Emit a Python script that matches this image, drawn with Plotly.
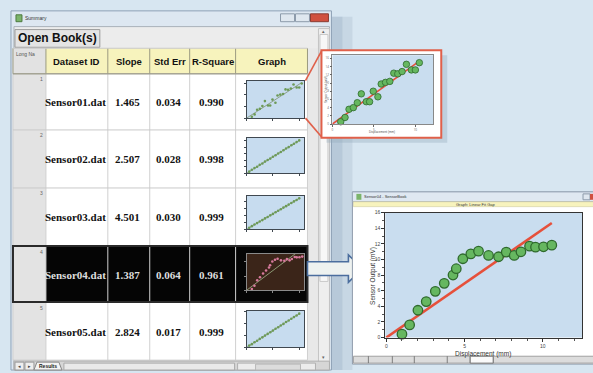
import plotly.graph_objects as go

W, H = 593, 373

# ---------------- data ----------------
headers = ["Dataset ID", "Slope", "Std Err", "R-Square", "Graph"]
dataset_ids = ["Sensor01.dat", "Sensor02.dat", "Sensor03.dat", "Sensor04.dat", "Sensor05.dat"]
slopes = [1.465, 2.507, 4.501, 1.387, 2.824]
std_errs = [0.034, 0.028, 0.030, 0.064, 0.017]
r_squares = [0.990, 0.998, 0.999, 0.961, 0.999]

s1_x = [1.0, 1.52, 2.0, 2.52, 3.0, 3.48, 4.08, 4.48, 4.92, 5.48, 5.88, 6.4, 6.92, 7.4, 7.88, 8.4, 8.92, 9.52, 10.0, 10.48]
s1_y = [0.56, 1.6, 3.6, 4.0, 5.2, 7.36, 5.44, 5.44, 8.0, 6.64, 9.76, 10.16, 10.4, 12.4, 12.24, 12.8, 14.56, 13.2, 13.2, 14.96]

s2_x = [0.5, 1.0, 1.5, 2.0, 2.5, 3.0, 3.5, 4.0, 4.5, 5.0, 5.5, 6.0, 6.5, 7.0, 7.5, 8.0, 8.5, 9.0, 9.5, 10.0]
s2_y = [1.2, 2.6, 3.9, 5.0, 6.4, 7.4, 8.9, 10.1, 11.2, 12.6, 13.7, 15.1, 16.2, 17.6, 18.9, 20.0, 21.4, 22.5, 23.8, 25.1]

s3_x = [0.5, 1.0, 1.5, 2.0, 2.5, 3.0, 3.5, 4.0, 4.5, 5.0, 5.5, 6.0, 6.5, 7.0, 7.5, 8.0, 8.5, 9.0, 9.5, 10.0]
s3_y = [2.1, 4.6, 6.9, 9.0, 11.3, 13.4, 15.9, 18.0, 20.3, 22.4, 24.8, 27.0, 29.2, 31.6, 33.7, 36.0, 38.2, 40.6, 42.7, 45.1]

s4_x = [1.0, 1.49, 2.02, 2.55, 3.13, 3.70, 4.26, 4.47, 4.89, 5.40, 5.89, 6.53, 7.17, 7.66, 8.17, 8.60, 9.15, 9.53, 10.04, 10.57]
s4_y = [0.43, 1.62, 3.49, 4.60, 5.91, 6.94, 8.0, 8.81, 10.09, 10.72, 11.06, 10.51, 10.34, 10.94, 10.51, 10.98, 11.70, 11.57, 11.62, 11.83]

s5_x = [0.5, 1.0, 1.5, 2.0, 2.5, 3.0, 3.5, 4.0, 4.5, 5.0, 5.5, 6.0, 6.5, 7.0, 7.5, 8.0, 8.5, 9.0, 9.5, 10.0]
s5_y = [1.5, 2.7, 4.3, 5.6, 7.1, 8.4, 9.9, 11.3, 12.7, 14.1, 15.6, 16.9, 18.4, 19.7, 21.3, 22.6, 24.0, 25.4, 26.8, 28.3]

series_x = [s1_x, s2_x, s3_x, s4_x, s5_x]
series_y = [s1_y, s2_y, s3_y, s4_y, s5_y]

big_x_ticks = [0, 5, 10]
big_y_ticks = [0, 2, 4, 6, 8, 10, 12, 14, 16]
big_x_title = "Displacement (mm)"
big_y_title = "Sensor Output (mV)"

# ---------------- helpers (pixel -> paper) ----------------
def fx(p):
    return p / W

def fy(p):
    return 1 - p / H

shapes = []
annotations = []

def rect(x0, y0, x1, y1, fill=None, line=None, lw=1, opacity=1, layer="below"):
    shapes.append(dict(type="rect", xref="paper", yref="paper",
                       x0=fx(x0), x1=fx(x1), y0=fy(y1), y1=fy(y0),
                       fillcolor=fill if fill else "rgba(0,0,0,0)",
                       line=dict(color=line if line else "rgba(0,0,0,0)", width=lw if line else 0),
                       opacity=opacity, layer=layer))

def seg(x0, y0, x1, y1, color, lw=1, layer="below"):
    shapes.append(dict(type="line", xref="paper", yref="paper",
                       x0=fx(x0), y0=fy(y0), x1=fx(x1), y1=fy(y1),
                       line=dict(color=color, width=lw), layer=layer))

def poly(points, fill, line, lw=1, layer="below"):
    d = "M " + " L ".join(f"{fx(x)},{fy(y)}" for x, y in points) + " Z"
    shapes.append(dict(type="path", xref="paper", yref="paper", path=d,
                       fillcolor=fill, line=dict(color=line, width=lw), layer=layer))

def text(x, y, s, size, color="#000", family="Liberation Sans", xa="center", ya="middle", angle=0):
    annotations.append(dict(xref="paper", yref="paper", x=fx(x), y=fy(y), text=s,
                            showarrow=False, xanchor=xa, yanchor=ya, textangle=angle,
                            borderpad=0, font=dict(size=size, color=color, family=family)))

# ---------------- Summary window ----------------
rect(330, 14, 352, 373, "#b9cbd9", opacity=0.55)
rect(330, 14, 342, 373, "#a7bccd", opacity=0.5)
rect(10, 8, 331, 373, "#dde7f1", "#8fa2b6")
rect(15, 12, 21, 19, "#7bb46a", "#4d7a3f")
text(23, 15.5, "Summary", 5, "#333", xa="left")
rect(280, 11, 294, 19, "#dfe7ef", "#8d9bab")
rect(295, 11, 309, 19, "#dfe7ef", "#8d9bab")
rect(310, 11, 328, 19, "#d0503f", "#8a3a30")
rect(13, 24, 329, 373, "#ececec", "#a9b1ba")
rect(14, 27, 99, 45, "#e4e4e4", "#9c9c9c")
text(56.5, 36, "<b>Open Book(s)</b>", 12, "#111")

col_edges = [12, 45, 107, 149, 189, 235, 307]
row_edges = [46, 72, 129, 188, 247, 304, 363]

rect(12, 46, 45, 72, "#e2e2e2")
rect(45, 46, 307, 72, "#f7f3bd")
rect(12, 72, 45, 363, "#e3e3e3")
rect(45, 72, 307, 363, "#ffffff")
rect(45, 247, 307, 304, "#050505")
rect(307, 46, 318, 365, "#e8e8e8")
rect(318, 26, 329, 365, "#eeeeee", "#c3c3c3")
rect(319.5, 32, 327.5, 283, "#f7f7f7", "#c9c9c9")
text(323.5, 28.5, "▴", 5, "#666")
text(323.5, 360, "▾", 5, "#666")

for i, x in enumerate(col_edges):
    seg(x, 46, x, 72, "#9b9a80", 1)
    seg(x, 72, x, 363, "#d0d0d0", 1)
for y in row_edges:
    seg(12, y, 307, y, "#c9c9c9", 1)
seg(12, 72, 307, 72, "#8f8e78", 1)
rect(12, 247, 307, 304, None, "#2a2a2a", 2)

col_centers = [(col_edges[i] + col_edges[i + 1]) / 2 for i in range(1, 6)]
for c, h in zip(col_centers, headers):
    text(c, 59.5, f"<b>{h}</b>", 9.5, "#111")
text(14, 47.5, "Long Na", 5, "#555", xa="left", ya="top")

for r in range(5):
    top, bot = row_edges[r + 1], row_edges[r + 2]
    cy = (top + bot) / 2 + 0.5
    col = "#dedede" if r == 3 else "#111"
    vals = [dataset_ids[r], f"{slopes[r]:.3f}", f"{std_errs[r]:.3f}", f"{r_squares[r]:.3f}"]
    for c, v in zip(col_centers[:4], vals):
        text(c - 1, cy, f"<b>{v}</b>", 11, col, family="Liberation Serif")
    text(43, top + 1.5, str(r + 1), 5, "#666", xa="right", ya="top")

# bottom tab bar
rect(13, 364, 329, 373, "#d6d6d6", "#b0b0b0")
rect(14, 365, 23, 373, "#eeeeee", "#999")
rect(24, 365, 33, 373, "#eeeeee", "#999")
text(18.5, 368.5, "◂", 5, "#444")
text(28.5, 368.5, "▸", 5, "#444")
poly([(33, 373), (36, 365), (58, 365), (61, 373)], "#f4f4f4", "#888")
text(47, 368.8, "<b>Results</b>", 5, "#222")
rect(63, 366, 234, 373, "#e9e9e9", "#a8a8a8")
rect(237, 366, 315, 373, "#ececec", "#b0b0b0")
rect(255, 367, 300, 373, "#dcdcdc", "#b8b8b8")

# ---------------- callout ----------------
rect(326, 53, 447, 142, "#8fa6b8", opacity=0.35)
rect(321, 48, 441, 137, "#ffffff", "#e0604a", 2)
seg(305, 79, 321, 49, "#e0604a", 1.6)
seg(305, 117, 321, 136, "#e0604a", 1.6)

# ---------------- arrow ----------------
poly([(307, 263), (348, 263), (348, 256), (362, 270), (348, 284), (348, 277), (307, 277)],
     "#eef2f0", "#4b6e9e", 1.6)

# ---------------- Graph window ----------------
rect(352, 192, 600, 367, "#ffffff", "#8f9cab")
rect(352, 192, 600, 202, "#dfe8f1", "#9aa8b8")
rect(356, 194, 361, 200, "#7bb46a")
text(363, 197, "Sensor04 - SensorBook", 4, "#333", xa="left")
rect(583, 194, 590, 200, "#dfe7ef", "#8d9bab")
rect(590, 194, 600, 200, "#d0503f")
rect(353, 202, 599, 207, "#f7f3bd", "#c8c49a", 0.5)
text(475, 204.5, "Graph: Linear Fit Gap", 4, "#333")
rect(353, 359, 599, 366, "#dcdcdc", "#a0a0a0")
for xs in [368, 392, 414, 447, 470, 493]:
    seg(xs, 359, xs, 366, "#666", 0.8)
rect(470, 359, 493, 366, "#fafafa", "#777")

BIG = (385, 213, 582, 340)
CAL = (332, 53, 433, 123)
thumb_rows = [(79, 117), (137, 173), (196, 230), (255, 292), (313, 350)]
THX = (246, 304)

rect(*BIG, "#c9ddef")
rect(*CAL, "#c9ddef")
for i, (t0, t1) in enumerate(thumb_rows):
    rect(THX[0], t0, THX[1], t1, "#3b2519" if i == 3 else "#c7dcef")

# axis titles
text(483, 357, big_x_title, 6.5, "#333")
text(372, 277, big_y_title, 6.5, "#333", angle=-90)
text(382, 131, big_x_title, 3, "#555")
text(325, 88, big_y_title, 3, "#555", angle=-90)

# ---------------- figure & traces ----------------
fig = go.Figure()

green_fill = "#66b760"
green_line = "#2f6a2d"
red = "#e6503b"

fig.add_trace(go.Scatter(x=[0, max(s4_x)], y=[0, slopes[3] * max(s4_x)], mode="lines",
                         line=dict(color=red, width=2.6), xaxis="x", yaxis="y",
                         cliponaxis=False, hoverinfo="skip"))
fig.add_trace(go.Scatter(x=s4_x, y=s4_y, mode="markers", xaxis="x", yaxis="y", cliponaxis=False,
                         marker=dict(size=9.5, color=green_fill, line=dict(color=green_line, width=1.3))))

fig.add_trace(go.Scatter(x=[0, max(s1_x)], y=[0, slopes[0] * max(s1_x)], mode="lines",
                         line=dict(color=red, width=1.6), xaxis="x2", yaxis="y2", cliponaxis=False))
fig.add_trace(go.Scatter(x=s1_x, y=s1_y, mode="markers", xaxis="x2", yaxis="y2", cliponaxis=False,
                         marker=dict(size=6.5, color=green_fill, line=dict(color=green_line, width=0.8))))

for i in range(5):
    ax = str(i + 3)
    xs, ys = series_x[i], series_y[i]
    dark = i == 3
    fig.add_trace(go.Scatter(x=[0, max(xs)], y=[0, slopes[i] * max(xs)], mode="lines",
                             line=dict(color="#9fb58a" if dark else "#7e9070", width=0.8),
                             xaxis="x" + ax, yaxis="y" + ax, cliponaxis=False))
    fig.add_trace(go.Scatter(x=xs, y=ys, mode="markers", xaxis="x" + ax, yaxis="y" + ax,
                             cliponaxis=False,
                             marker=dict(size=2.6, color="#d77a9c" if dark else "#6d9a57",
                                         line=dict(width=0))))

axis_common = dict(showgrid=False, zeroline=False, showline=True, mirror=True)

layout = dict(
    width=W, height=H, autosize=False,
    margin=dict(l=0, r=0, t=0, b=0, pad=0),
    paper_bgcolor="#d7e6f1", plot_bgcolor="rgba(0,0,0,0)",
    showlegend=False,
    shapes=shapes, annotations=annotations,
    xaxis=dict(domain=[fx(BIG[0]), fx(BIG[2])], range=[-0.06, 12.5], tickvals=big_x_ticks,
               ticks="outside", ticklen=3, tickcolor="#333", linecolor="#333", linewidth=1,
               tickfont=dict(size=5, color="#444", family="Liberation Sans"),
               minor=dict(ticks="outside", ticklen=2, dtick=1, tickcolor="#555"),
               anchor="y", **axis_common),
    yaxis=dict(domain=[fy(BIG[3]), fy(BIG[1])], range=[0, 16], tickvals=big_y_ticks,
               ticks="outside", ticklen=3, tickcolor="#333", linecolor="#333", linewidth=1,
               tickfont=dict(size=5, color="#444", family="Liberation Sans"),
               minor=dict(ticks="outside", ticklen=2, dtick=1, tickcolor="#555"),
               anchor="x", **axis_common),
    xaxis2=dict(domain=[fx(CAL[0]), fx(CAL[2])], range=[0, 12.16], tickvals=[0, 5, 10],
                ticks="outside", ticklen=2, tickcolor="#666", linecolor="#888", linewidth=0.8,
                tickfont=dict(size=3, color="#666"), anchor="y2", **axis_common),
    yaxis2=dict(domain=[fy(CAL[3]), fy(CAL[1])], range=[0, 16.8], tickvals=[0, 2, 4, 6, 8, 10, 12, 14, 16],
                ticks="outside", ticklen=2, tickcolor="#666", linecolor="#888", linewidth=0.8,
                tickfont=dict(size=3, color="#666"), anchor="x2", **axis_common),
)

for i, (t0, t1) in enumerate(thumb_rows):
    ax = str(i + 3)
    ymax = max(series_y[i]) * 1.08
    lc = "#8a8a8a" if i == 3 else "#404850"
    layout["xaxis" + ax] = dict(domain=[fx(THX[0]), fx(THX[1])], range=[0, 11], showticklabels=False,
                                ticks="outside", ticklen=1.5, tickcolor=lc, tickvals=[0, 5, 10],
                                linecolor=lc, linewidth=1, anchor="y" + ax, **axis_common)
    layout["yaxis" + ax] = dict(domain=[fy(t1), fy(t0)], range=[0, ymax], showticklabels=False,
                                ticks="outside", ticklen=1.5, tickcolor=lc, nticks=6,
                                linecolor=lc, linewidth=1, anchor="x" + ax, **axis_common)

fig.update_layout(**layout)

fig.write_html("out.html", config={"displayModeBar": False},
               post_script="document.body.style.margin='0';document.body.style.overflow='hidden';")
